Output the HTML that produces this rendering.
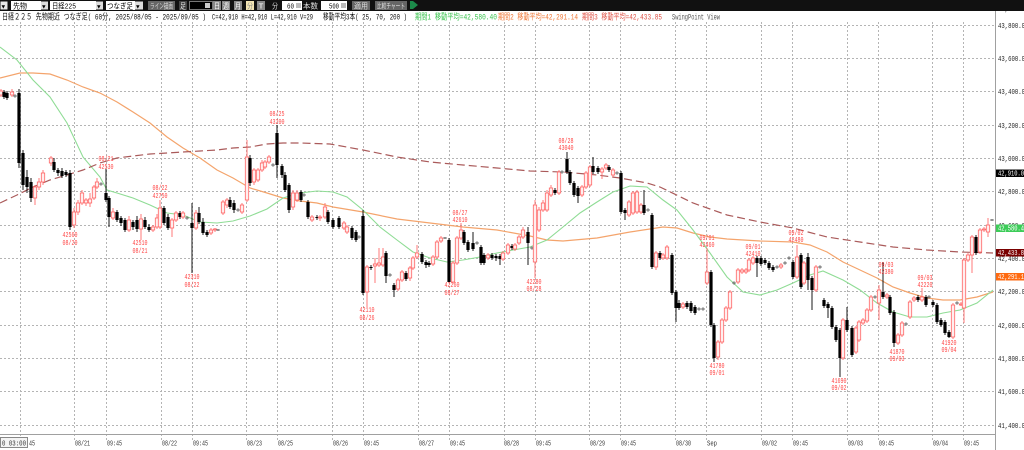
<!DOCTYPE html>
<html><head><meta charset="utf-8"><style>
html,body{margin:0;padding:0;background:#fff;}
svg{display:block;}
text{font-family:"Liberation Mono","Noto Sans CJK JP",monospace;}
</style></head><body>
<svg id="s" width="1024" height="450" viewBox="0 0 1024 450" xmlns="http://www.w3.org/2000/svg">
<rect x="0" y="0" width="1024" height="450" fill="#fff"/>
<!-- horizontal grid -->
<g stroke="#b4b4b4" stroke-width="1" stroke-dasharray="2,2" shape-rendering="crispEdges">
<line x1="0" x2="995" y1="25.5" y2="25.5"/><line x1="0" x2="995" y1="58.5" y2="58.5"/>
<line x1="0" x2="995" y1="91.5" y2="91.5"/><line x1="0" x2="995" y1="125.5" y2="125.5"/>
<line x1="0" x2="995" y1="158.5" y2="158.5"/><line x1="0" x2="995" y1="191.5" y2="191.5"/>
<line x1="0" x2="995" y1="225.5" y2="225.5"/><line x1="0" x2="995" y1="258.5" y2="258.5"/>
<line x1="0" x2="995" y1="291.5" y2="291.5"/><line x1="0" x2="995" y1="325.5" y2="325.5"/>
<line x1="0" x2="995" y1="358.5" y2="358.5"/><line x1="0" x2="995" y1="391.5" y2="391.5"/>
<line x1="0" x2="995" y1="425.5" y2="425.5"/>
</g>
<!-- vertical grid -->
<g stroke="#b4b4b4" stroke-width="1" stroke-dasharray="2,2" shape-rendering="crispEdges">
<line x1="20.5" x2="20.5" y1="22" y2="440"/><line x1="74.5" x2="74.5" y1="22" y2="440"/>
<line x1="106.5" x2="106.5" y1="22" y2="440"/><line x1="161.5" x2="161.5" y1="22" y2="440"/>
<line x1="192.5" x2="192.5" y1="22" y2="440"/><line x1="246.5" x2="246.5" y1="22" y2="440"/>
<line x1="277.5" x2="277.5" y1="22" y2="440"/><line x1="332.5" x2="332.5" y1="22" y2="440"/>
<line x1="363.5" x2="363.5" y1="22" y2="440"/><line x1="418.5" x2="418.5" y1="22" y2="440"/>
<line x1="449.5" x2="449.5" y1="22" y2="440"/><line x1="504.5" x2="504.5" y1="22" y2="440"/>
<line x1="535.5" x2="535.5" y1="22" y2="440"/><line x1="589.5" x2="589.5" y1="22" y2="440"/>
<line x1="620.5" x2="620.5" y1="22" y2="440"/><line x1="675.5" x2="675.5" y1="22" y2="440"/>
<line x1="706.5" x2="706.5" y1="22" y2="440"/><line x1="761.5" x2="761.5" y1="22" y2="440"/>
<line x1="792.5" x2="792.5" y1="22" y2="440"/><line x1="847.5" x2="847.5" y1="22" y2="440"/>
<line x1="878.5" x2="878.5" y1="22" y2="440"/><line x1="932.5" x2="932.5" y1="22" y2="440"/>
<line x1="963.5" x2="963.5" y1="22" y2="440"/>
</g>
<!-- moving averages -->
<polyline fill="none" stroke="#f4a46c" stroke-width="1.2" points="0,78 20,73 33,73 50,74 67,80 83,87 100,93 117,102 133,112 150,123 167,137 183,148 200,158 217,170 233,178 250,188 267,193 283,198 300,201 317,203 333,207 363,212 397,219 430,223 463,227 497,230 530,236 547,240 563,241 597,238 630,232 663,227 677,228 693,233 710,237 727,239 760,241 793,242 810,245 827,252 843,262 860,270 877,278 893,287 910,293 927,298 943,300 960,300 977,297 993,292"/>
<polyline fill="none" stroke="#8fdc95" stroke-width="1.1" points="0,47 17,60 33,80 50,97 67,123 83,157 100,177 107,190 117,193 133,198 150,205 167,213 183,215 200,222 217,223 233,221 250,216 267,209 283,198 300,193 317,191 333,192 347,197 363,210 380,227 397,240 413,252 430,258 447,262 463,260 480,257 497,253 513,250 530,247 547,240 563,227 580,213 597,202 613,192 630,186 647,187 663,200 677,210 693,230 710,253 727,277 743,292 760,295 777,290 793,283 810,275 823,271 843,280 860,290 877,303 893,312 910,317 927,317 943,313 960,310 977,303 993,290"/>
<polyline fill="none" stroke="#aa5a5a" stroke-width="1.2" stroke-dasharray="8,4" points="0,203 17,195 33,187 50,180 67,175 83,170 100,163 117,158 133,156 150,154 167,153 183,152 200,151 217,150 233,148 250,147 267,144 283,143 300,143 330,144 363,150 397,157 430,162 463,165 497,168 530,171 563,172 597,175 620,178 647,183 660,187 693,203 727,215 760,222 793,228 827,237 860,242 893,247 927,250 960,252 993,253"/>
<g id="c"></g>
<!-- swing labels -->
<g fill="#ff4545" font-size="7.5" text-anchor="middle">
<text x="70" y="237" textLength="15" lengthAdjust="spacingAndGlyphs">42560</text><text x="70" y="245" textLength="15" lengthAdjust="spacingAndGlyphs">08/20</text>
<text x="106" y="161" textLength="15" lengthAdjust="spacingAndGlyphs">08/21</text><text x="106" y="169" textLength="15" lengthAdjust="spacingAndGlyphs">42530</text>
<text x="140" y="245" textLength="15" lengthAdjust="spacingAndGlyphs">42510</text><text x="140" y="253" textLength="15" lengthAdjust="spacingAndGlyphs">08/21</text>
<text x="160" y="190" textLength="15" lengthAdjust="spacingAndGlyphs">08/22</text><text x="160" y="198" textLength="15" lengthAdjust="spacingAndGlyphs">42750</text>
<text x="192" y="279" textLength="15" lengthAdjust="spacingAndGlyphs">42310</text><text x="192" y="287" textLength="15" lengthAdjust="spacingAndGlyphs">08/22</text>
<text x="277" y="116" textLength="15" lengthAdjust="spacingAndGlyphs">08/25</text><text x="277" y="124" textLength="15" lengthAdjust="spacingAndGlyphs">43200</text>
<text x="367" y="312" textLength="15" lengthAdjust="spacingAndGlyphs">42110</text><text x="367" y="320" textLength="15" lengthAdjust="spacingAndGlyphs">08/26</text>
<text x="452" y="287" textLength="15" lengthAdjust="spacingAndGlyphs">42260</text><text x="452" y="295" textLength="15" lengthAdjust="spacingAndGlyphs">08/27</text>
<text x="460" y="215" textLength="15" lengthAdjust="spacingAndGlyphs">08/27</text><text x="460" y="222" textLength="15" lengthAdjust="spacingAndGlyphs">42610</text>
<text x="534" y="284" textLength="15" lengthAdjust="spacingAndGlyphs">42280</text><text x="534" y="291" textLength="15" lengthAdjust="spacingAndGlyphs">08/28</text>
<text x="566" y="143" textLength="15" lengthAdjust="spacingAndGlyphs">08/28</text><text x="566" y="150" textLength="15" lengthAdjust="spacingAndGlyphs">43040</text>
<text x="707" y="240" textLength="15" lengthAdjust="spacingAndGlyphs">09/01</text><text x="707" y="247" textLength="15" lengthAdjust="spacingAndGlyphs">42460</text>
<text x="717" y="368" textLength="15" lengthAdjust="spacingAndGlyphs">41780</text><text x="717" y="375" textLength="15" lengthAdjust="spacingAndGlyphs">09/01</text>
<text x="753" y="249" textLength="15" lengthAdjust="spacingAndGlyphs">09/01</text><text x="753" y="256" textLength="15" lengthAdjust="spacingAndGlyphs">42410</text>
<text x="796" y="235" textLength="15" lengthAdjust="spacingAndGlyphs">09/02</text><text x="796" y="242" textLength="15" lengthAdjust="spacingAndGlyphs">42480</text>
<text x="839" y="383" textLength="15" lengthAdjust="spacingAndGlyphs">41690</text><text x="839" y="390" textLength="15" lengthAdjust="spacingAndGlyphs">09/02</text>
<text x="886" y="267" textLength="15" lengthAdjust="spacingAndGlyphs">09/03</text><text x="886" y="274" textLength="15" lengthAdjust="spacingAndGlyphs">42380</text>
<text x="897" y="354" textLength="15" lengthAdjust="spacingAndGlyphs">41870</text><text x="897" y="361" textLength="15" lengthAdjust="spacingAndGlyphs">09/03</text>
<text x="925" y="280" textLength="15" lengthAdjust="spacingAndGlyphs">09/03</text><text x="925" y="287" textLength="15" lengthAdjust="spacingAndGlyphs">42220</text>
<text x="949" y="345" textLength="15" lengthAdjust="spacingAndGlyphs">41920</text><text x="949" y="352" textLength="15" lengthAdjust="spacingAndGlyphs">09/04</text>
</g>
<!-- axes -->
<line x1="0" x2="995" y1="434.5" y2="434.5" stroke="#a0a0a0" shape-rendering="crispEdges"/>
<line x1="995.5" x2="995.5" y1="0" y2="450" stroke="#a0a0a0" shape-rendering="crispEdges"/>
<g fill="#222" font-size="7.5">
<text x="998" y="11" textLength="27" lengthAdjust="spacingAndGlyphs">43,900.0</text>
<text x="998" y="28" textLength="27" lengthAdjust="spacingAndGlyphs">43,800.0</text>
<text x="998" y="61" textLength="27" lengthAdjust="spacingAndGlyphs">43,600.0</text>
<text x="998" y="94" textLength="27" lengthAdjust="spacingAndGlyphs">43,400.0</text>
<text x="998" y="128" textLength="27" lengthAdjust="spacingAndGlyphs">43,200.0</text>
<text x="998" y="161" textLength="27" lengthAdjust="spacingAndGlyphs">43,000.0</text>
<text x="998" y="194" textLength="27" lengthAdjust="spacingAndGlyphs">42,800.0</text>
<text x="998" y="228" textLength="27" lengthAdjust="spacingAndGlyphs">42,600.0</text>
<text x="998" y="261" textLength="27" lengthAdjust="spacingAndGlyphs">42,400.0</text>
<text x="998" y="294" textLength="27" lengthAdjust="spacingAndGlyphs">42,200.0</text>
<text x="998" y="328" textLength="27" lengthAdjust="spacingAndGlyphs">42,000.0</text>
<text x="998" y="361" textLength="27" lengthAdjust="spacingAndGlyphs">41,800.0</text>
<text x="998" y="394" textLength="27" lengthAdjust="spacingAndGlyphs">41,600.0</text>
<text x="998" y="428" textLength="27" lengthAdjust="spacingAndGlyphs">41,400.0</text>
</g>
<rect x="996" y="169.5" width="28" height="7.5" fill="#000"/>
<rect x="996" y="224.5" width="28" height="7.5" fill="#3ccc58"/>
<rect x="996" y="249" width="28" height="7.5" fill="#7a0000"/>
<rect x="996" y="273" width="28" height="7.5" fill="#ff6a10"/>
<g fill="#fff" font-size="7">
<text x="998" y="175.5" textLength="26" lengthAdjust="spacingAndGlyphs">42,910.0</text>
<text x="998" y="230.5" textLength="26" lengthAdjust="spacingAndGlyphs">42,580.4</text>
<text x="998" y="255" textLength="26" lengthAdjust="spacingAndGlyphs">42,433.8</text>
<text x="998" y="279" textLength="26" lengthAdjust="spacingAndGlyphs">42,291.1</text>
</g>
<!-- x labels -->
<g fill="#333" font-size="7.5">
<rect x="0.5" y="437.5" width="27" height="10" fill="#f4f4f4" stroke="#888"/>
<text x="2" y="445.5" textLength="24" lengthAdjust="spacingAndGlyphs">0 03:00</text>
<text x="29" y="445.5" textLength="6" lengthAdjust="spacingAndGlyphs">45</text>
<text x="75" y="445.5" textLength="15" lengthAdjust="spacingAndGlyphs">08/21</text>
<text x="107" y="445.5" textLength="15" lengthAdjust="spacingAndGlyphs">09:45</text>
<text x="162" y="445.5" textLength="15" lengthAdjust="spacingAndGlyphs">08/22</text>
<text x="193" y="445.5" textLength="15" lengthAdjust="spacingAndGlyphs">09:45</text>
<text x="247" y="445.5" textLength="15" lengthAdjust="spacingAndGlyphs">08/23</text>
<text x="278" y="445.5" textLength="15" lengthAdjust="spacingAndGlyphs">08/25</text>
<text x="333" y="445.5" textLength="15" lengthAdjust="spacingAndGlyphs">08/26</text>
<text x="364" y="445.5" textLength="15" lengthAdjust="spacingAndGlyphs">09:45</text>
<text x="419" y="445.5" textLength="15" lengthAdjust="spacingAndGlyphs">08/27</text>
<text x="450" y="445.5" textLength="15" lengthAdjust="spacingAndGlyphs">09:45</text>
<text x="504" y="445.5" textLength="15" lengthAdjust="spacingAndGlyphs">08/28</text>
<text x="536" y="445.5" textLength="15" lengthAdjust="spacingAndGlyphs">09:45</text>
<text x="590" y="445.5" textLength="15" lengthAdjust="spacingAndGlyphs">08/29</text>
<text x="621" y="445.5" textLength="15" lengthAdjust="spacingAndGlyphs">09:45</text>
<text x="676" y="445.5" textLength="15" lengthAdjust="spacingAndGlyphs">08/30</text>
<text x="707" y="445.5" textLength="10" lengthAdjust="spacingAndGlyphs">Sep</text>
<text x="762" y="445.5" textLength="15" lengthAdjust="spacingAndGlyphs">09/02</text>
<text x="793" y="445.5" textLength="15" lengthAdjust="spacingAndGlyphs">09:45</text>
<text x="848" y="445.5" textLength="15" lengthAdjust="spacingAndGlyphs">09/03</text>
<text x="879" y="445.5" textLength="15" lengthAdjust="spacingAndGlyphs">09:45</text>
<text x="933" y="445.5" textLength="15" lengthAdjust="spacingAndGlyphs">09/04</text>
<text x="964" y="445.5" textLength="15" lengthAdjust="spacingAndGlyphs">09:45</text>
</g>
<!-- header row -->
<rect x="0" y="11" width="995" height="10" fill="#fff"/>
<g font-size="8.5">
<text x="2" y="19.5" fill="#111" textLength="204" lengthAdjust="spacingAndGlyphs">日経２２５ 先物期近 つなぎ足( 60分, 2025/08/05 - 2025/09/05 )</text>
<text x="212" y="19.5" fill="#111" textLength="101" lengthAdjust="spacingAndGlyphs">C=42,910 H=42,910 L=42,910 V=29</text>
<text x="323" y="19.5" fill="#111" textLength="84" lengthAdjust="spacingAndGlyphs">移動平均3本( 25, 70, 200 )</text>
<text x="415" y="19.5" fill="#3cc450" textLength="82" lengthAdjust="spacingAndGlyphs">期間1 移動平均=42,580.40</text>
<text x="498" y="19.5" fill="#f07a3a" textLength="80" lengthAdjust="spacingAndGlyphs">期間2 移動平均=42,291.14</text>
<text x="582" y="19.5" fill="#e0554a" textLength="80" lengthAdjust="spacingAndGlyphs">期間3 移動平均=42,433.85</text>
<text x="672" y="19.5" fill="#555" textLength="48" lengthAdjust="spacingAndGlyphs">SwingPoint View</text>
</g>
<!-- toolbar -->
<rect x="0" y="0" width="1024" height="11" fill="#111"/>
<g font-size="7.5">
<rect x="0.5" y="1.5" width="7" height="8" fill="#e8e8e8"/><text x="1.5" y="8.5" fill="#000" font-size="6">▼</text>
<rect x="11" y="1" width="30" height="9" fill="#fff"/><text x="13" y="8.5" fill="#000" textLength="14" lengthAdjust="spacingAndGlyphs">先物</text>
<rect x="41" y="1.5" width="7" height="8" fill="#ddd"/><text x="42" y="8.5" fill="#000" font-size="6">▼</text>
<rect x="50" y="1" width="46" height="9" fill="#fff"/><text x="52" y="8.5" fill="#000" textLength="24" lengthAdjust="spacingAndGlyphs">日経225</text>
<rect x="96" y="1.5" width="7" height="8" fill="#ddd"/><text x="97" y="8.5" fill="#000" font-size="6">▼</text>
<rect x="106" y="1" width="29" height="9" fill="#fff"/><text x="107" y="8.5" fill="#000" textLength="26" lengthAdjust="spacingAndGlyphs">つなぎ足</text>
<rect x="135" y="1.5" width="8" height="8" fill="#ddd"/><text x="136" y="8.5" fill="#000" font-size="6">▼</text>
<rect x="148" y="1" width="27" height="9" fill="#666"/><text x="150" y="8.5" fill="#ddd" textLength="23" lengthAdjust="spacingAndGlyphs">ライン描画</text>
<rect x="179" y="1" width="8" height="9" fill="#444"/><text x="180" y="8.5" fill="#eee" textLength="6" lengthAdjust="spacingAndGlyphs">足</text>
<rect x="189.5" y="1.5" width="23" height="8" fill="#000" stroke="#777"/><rect x="205" y="3" width="5" height="5" fill="#ccc"/>
<rect x="213" y="1" width="8" height="9" fill="#888"/><text x="214" y="8.5" fill="#fff" textLength="6" lengthAdjust="spacingAndGlyphs">日</text>
<rect x="222" y="1" width="8" height="9" fill="#888"/><text x="223" y="8.5" fill="#fff" textLength="6" lengthAdjust="spacingAndGlyphs">週</text>
<rect x="234" y="1" width="8" height="9" fill="#888"/><text x="235" y="8.5" fill="#fff" textLength="6" lengthAdjust="spacingAndGlyphs">月</text>
<rect x="246" y="1" width="8" height="9" fill="#f3e6b4"/><text x="247" y="8.5" fill="#888" textLength="6" lengthAdjust="spacingAndGlyphs">分</text>
<rect x="257" y="1" width="8" height="9" fill="#888"/><text x="258.5" y="8.5" fill="#fff" textLength="5" lengthAdjust="spacingAndGlyphs">T</text>
<text x="272" y="8.5" fill="#ddd" textLength="6" lengthAdjust="spacingAndGlyphs">分</text>
<rect x="282" y="1" width="20" height="9" fill="#fff"/><text x="287" y="8.5" fill="#000" textLength="7" lengthAdjust="spacingAndGlyphs">60</text><rect x="296" y="3" width="5" height="5" fill="#bbb"/>
<text x="303" y="8.5" fill="#ddd" textLength="15" lengthAdjust="spacingAndGlyphs">本数</text>
<rect x="321" y="1" width="26" height="9" fill="#fff"/><text x="329" y="8.5" fill="#000" textLength="10" lengthAdjust="spacingAndGlyphs">500</text><rect x="341" y="3" width="5" height="5" fill="#bbb"/>
<rect x="352" y="1" width="18" height="9" fill="#666"/><text x="354" y="8.5" fill="#ddd" textLength="14" lengthAdjust="spacingAndGlyphs">適用</text>
<rect x="375" y="1" width="32" height="9" fill="#666"/><text x="377" y="8.5" fill="#ddd" textLength="28" lengthAdjust="spacingAndGlyphs">比較チャート</text>
<polygon points="410,1 413,1 418,5 413,9 410,9" fill="#1c8a4a"/>
</g>
</svg>
<script>
var D=[
[1,95,91,89,97],[4,92,97,90,99],[7,93,98,91,100],[12,95,92,89,97],[15,96,96,94,98],[19,93,163,89,168],[23,153,185,150,190],[27,177,187,170,193],[31,182,198,178,202],[35,198,187,185,205],[39,187,182,178,190],[43,182,173,170,185],[51,163,158,156,166],[54,162,170,158,172],[58,170,173,168,176],[62,171,176,168,178],[66,172,175,170,177],[70,173,227,170,230],[74,225,212,208,228],[78,212,203,200,215],[82,203,193,190,205],[86,203,200,198,206],[90,203,199,193,207],[94,198,187,185,200],[97,187,182,178,189],[101,184,184,182,186],[106,193,200,169,202],[109,198,217,196,227],[113,218,212,208,220],[117,212,220,210,222],[121,218,223,216,226],[125,220,230,218,232],[129,230,220,216,232],[133,222,227,220,230],[137,220,229,216,232],[141,229,219,214,240],[145,220,227,217,229],[149,227,230,224,232],[153,230,227,225,232],[157,227,218,214,229],[160,227,208,200,229],[164,208,223,206,225],[168,217,228,214,230],[172,228,220,218,237],[176,220,213,211,222],[180,213,217,211,219],[183,217,213,211,219],[187,218,218,216,220],[192,223,228,203,273],[196,228,213,210,230],[199,213,222,207,224],[203,222,233,218,235],[207,232,235,230,237],[211,233,230,228,235],[215,230,229,228,232],[218,230,230,229,231],[223,213,202,200,215],[227,205,200,198,208],[230,200,207,197,209],[234,203,210,200,213],[238,210,210,208,212],[242,212,205,203,214],[247,200,157,140,202],[250,158,183,155,186],[254,182,170,168,185],[258,180,170,168,182],[262,170,163,160,172],[265,167,162,160,169],[269,162,157,155,164],[273,165,165,163,167],[277,133,165,125,178],[282,166,175,164,178],[285,175,190,172,192],[289,185,210,183,213],[293,207,193,190,210],[297,200,193,190,202],[301,192,200,190,202],[304,195,195,193,197],[308,202,217,200,219],[312,220,217,215,222],[317,217,218,215,220],[320,218,217,215,221],[325,217,207,203,219],[328,212,222,210,224],[333,220,227,218,229],[339,218,227,216,229],[344,228,223,221,230],[347,232,227,225,234],[352,228,238,226,240],[356,232,240,230,242],[359,237,237,235,239],[363,216,293,210,295],[367,292,267,265,307],[371,267,268,265,270],[375,266,264,258,283],[379,265,263,248,267],[383,265,257,248,267],[386,253,276,251,283],[390,275,275,273,277],[394,285,290,283,297],[398,289,280,278,291],[402,280,272,270,282],[406,273,279,271,281],[410,278,268,266,281],[413,268,258,256,270],[417,257,253,245,259],[422,254,262,252,264],[426,262,265,260,268],[429,263,265,261,267],[433,264,257,255,266],[437,257,242,240,259],[441,241,238,236,243],[445,238,238,237,239],[449,240,282,238,282],[453,282,263,261,284],[457,263,238,236,265],[461,238,230,223,240],[464,232,243,230,245],[468,242,250,240,252],[473,243,249,232,251],[477,243,243,241,245],[481,247,263,245,265],[484,255,263,253,265],[488,258,255,253,260],[492,255,258,253,260],[496,256,258,254,261],[500,256,259,254,265],[503,259,253,251,261],[508,253,245,243,255],[512,246,248,244,250],[515,249,245,243,251],[519,243,237,235,245],[523,237,230,227,239],[528,232,243,227,265],[532,248,248,246,250],[535,262,205,200,278],[539,230,210,207,232],[543,210,203,200,212],[547,210,193,190,212],[551,195,188,185,197],[555,190,193,188,195],[559,193,172,170,195],[562,172,172,170,174],[567,159,172,152,174],[570,172,183,170,185],[574,183,195,181,197],[578,188,196,186,203],[582,195,187,185,197],[586,187,173,171,189],[590,185,167,165,187],[593,166,172,157,174],[598,168,172,166,174],[602,172,169,167,179],[606,168,165,163,170],[609,167,170,165,172],[613,175,170,168,177],[617,173,173,171,175],[621,173,212,171,214],[625,210,213,208,220],[629,215,202,200,217],[633,213,193,191,215],[637,212,192,190,214],[641,212,205,203,214],[644,205,213,190,215],[648,210,210,208,212],[652,215,267,213,269],[656,267,253,251,270],[660,253,258,251,260],[663,258,255,253,260],[667,258,247,245,260],[672,255,293,253,295],[676,292,308,290,322],[679,303,308,300,310],[683,307,304,302,309],[687,303,307,301,309],[691,303,311,301,313],[695,307,313,305,315],[699,309,309,307,311],[703,309,309,307,311],[707,283,272,248,285],[711,272,325,270,327],[714,325,358,323,362],[718,357,342,340,360],[722,342,320,318,344],[726,320,308,306,322],[730,308,292,290,310],[734,283,283,281,285],[738,282,270,268,284],[742,272,270,268,274],[746,272,270,268,274],[749,270,260,258,272],[753,263,258,256,265],[757,258,263,256,277],[761,258,264,256,266],[765,260,263,258,265],[769,263,268,261,270],[773,267,270,265,272],[777,267,267,265,269],[781,267,265,263,269],[785,263,263,261,265],[789,258,258,256,260],[793,262,277,260,279],[797,277,257,245,279],[801,255,287,253,289],[804,283,263,261,285],[808,257,280,253,290],[812,278,290,276,310],[816,290,267,265,292],[820,267,267,265,269],[824,300,306,298,308],[828,304,308,302,318],[832,308,327,306,329],[836,327,340,325,342],[840,330,358,328,377],[843,358,320,318,360],[847,320,330,307,332],[852,328,355,326,357],[856,352,328,326,354],[859,340,322,320,342],[863,323,320,318,325],[867,321,310,308,323],[871,310,297,295,312],[875,297,297,295,299],[879,303,290,285,320],[883,292,297,262,299],[887,297,295,293,299],[890,297,313,295,315],[894,312,343,310,347],[898,343,335,333,345],[902,335,323,321,337],[906,324,324,322,326],[910,317,302,300,319],[914,300,298,296,302],[918,297,300,295,302],[922,300,297,288,302],[926,297,305,295,307],[929,297,297,295,299],[933,302,305,300,307],[937,305,322,303,324],[941,320,325,318,327],[945,322,333,320,335],[949,332,337,330,338],[953,337,305,303,339],[957,303,303,301,305],[961,305,304,302,306],[964,308,260,258,323],[968,260,255,253,262],[972,255,237,235,273],[976,237,253,235,255],[980,252,230,228,254],[984,230,229,227,232],[988,232,225,218,237],[992,220,220,219,221]
];
var s='';
for(var i=0;i<D.length;i++){
  var d=D[i],x=d[0],o=d[1],c=d[2],h=d[3],l=d[4];
  var t=Math.min(o,c),b=Math.max(o,c);
  if(b-t<1){
    s+='<line x1="'+x+'" x2="'+x+'" y1="'+h+'" y2="'+l+'" stroke="#777" stroke-width="0.8"/>';
    s+='<line x1="'+(x-1.8)+'" x2="'+(x+1.8)+'" y1="'+o+'" y2="'+o+'" stroke="#555" stroke-width="1"/>';
  } else if(c<o){
    s+='<line x1="'+x+'" x2="'+x+'" y1="'+h+'" y2="'+l+'" stroke="#ff6b6b" stroke-width="0.9"/>';
    s+='<rect x="'+(x-1.7)+'" y="'+t+'" width="3.4" height="'+(b-t)+'" fill="#ffeeee" stroke="#ff6464" stroke-width="0.8"/>';
  } else {
    s+='<line x1="'+x+'" x2="'+x+'" y1="'+h+'" y2="'+l+'" stroke="#000" stroke-width="0.9"/>';
    s+='<rect x="'+(x-1.6)+'" y="'+t+'" width="3.2" height="'+(b-t)+'" fill="#000"/>';
  }
}
document.getElementById('c').innerHTML=s;
</script>
</body></html>
